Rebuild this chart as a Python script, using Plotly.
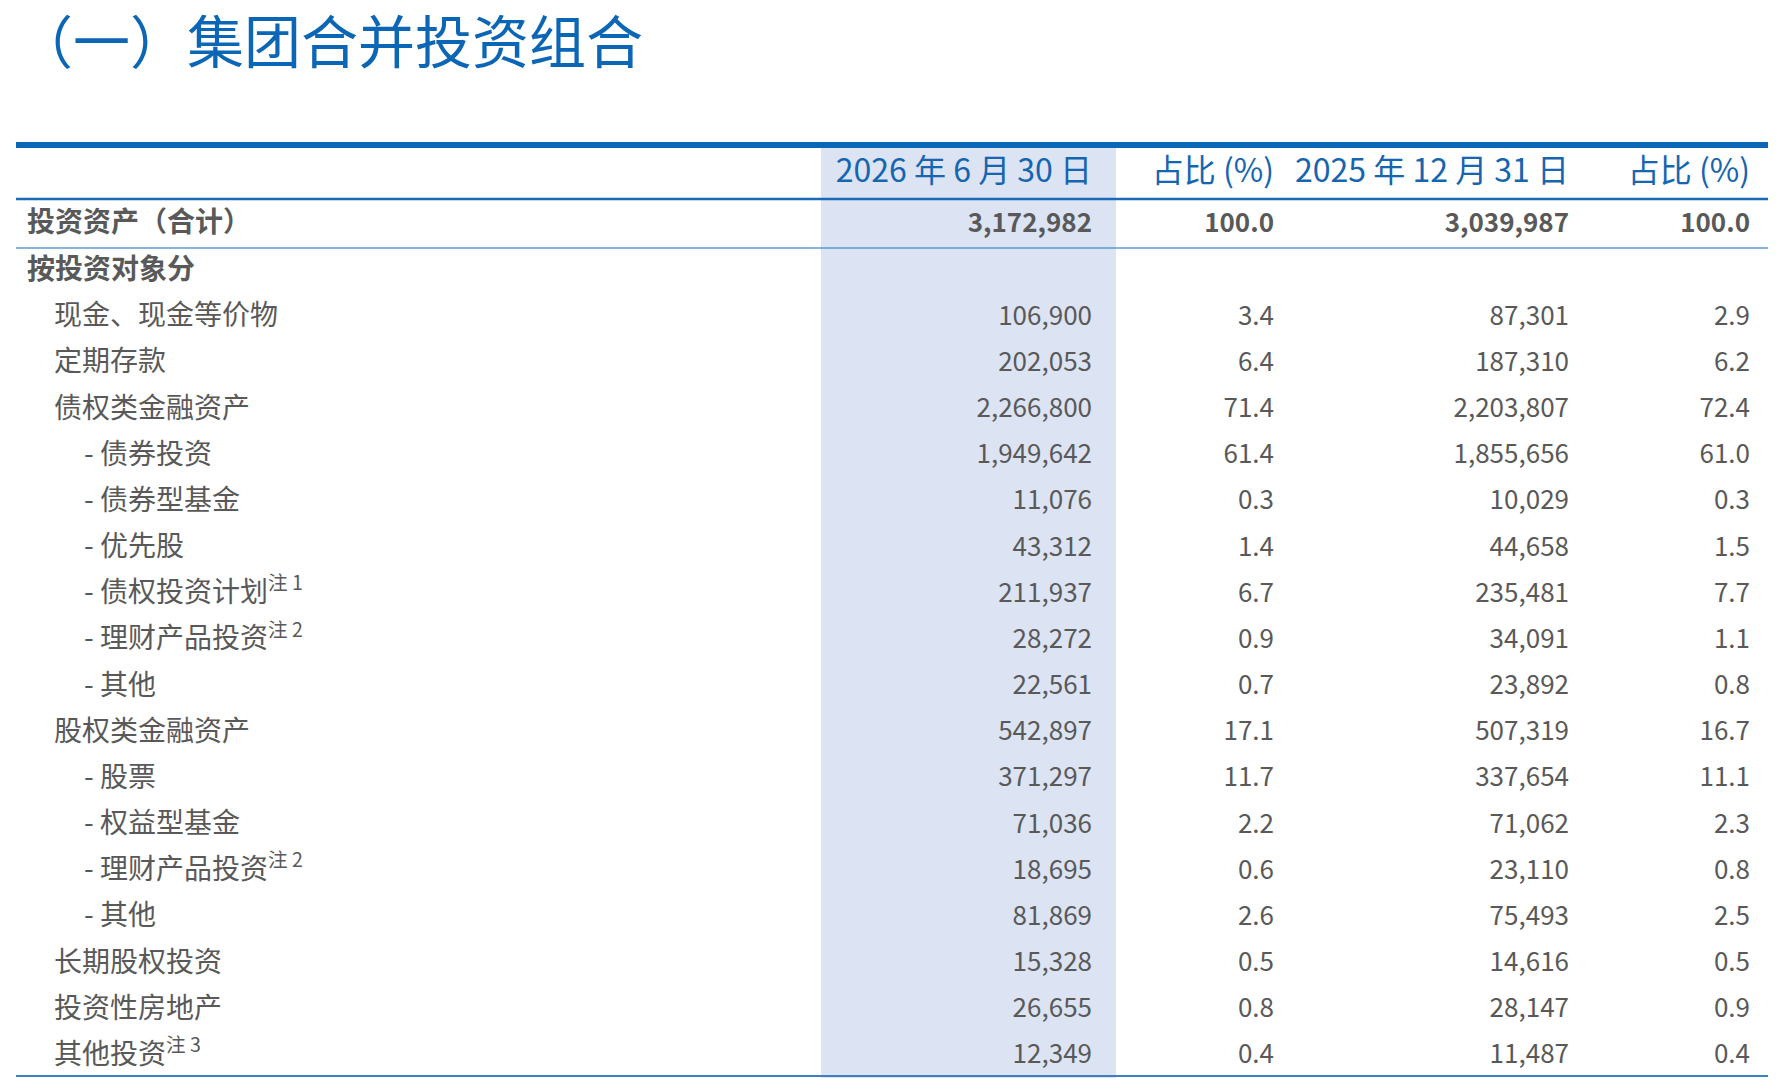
import plotly.graph_objects as go

title = "（一）集团合并投资组合"
unit = "单位：人民币百万元"
headers = ["2026 年 6 月 30 日", "占比 (%)", "2025 年 12 月 31 日", "占比 (%)"]

total_label = "投资资产（合计）"
total_vals = ["3,172,982", "100.0", "3,039,987", "100.0"]

labels = ["按投资对象分", "现金、现金等价物", "定期存款", "债权类金融资产", "- 债券投资", "- 债券型基金",
          "- 优先股", "- 债权投资计划<sup>注 1</sup>", "- 理财产品投资<sup>注 2</sup>", "- 其他",
          "股权类金融资产", "- 股票", "- 权益型基金", "- 理财产品投资<sup>注 2</sup>", "- 其他",
          "长期股权投资", "投资性房地产", "其他投资<sup>注 3</sup>"]
levels = [0, 1, 1, 1, 2, 2, 2, 2, 2, 2, 1, 2, 2, 2, 2, 1, 1, 1]
amt_2026 = ["", "106,900", "202,053", "2,266,800", "1,949,642", "11,076", "43,312", "211,937", "28,272",
            "22,561", "542,897", "371,297", "71,036", "18,695", "81,869", "15,328", "26,655", "12,349"]
pct_2026 = ["", "3.4", "6.4", "71.4", "61.4", "0.3", "1.4", "6.7", "0.9", "0.7", "17.1", "11.7", "2.2",
            "0.6", "2.6", "0.5", "0.8", "0.4"]
amt_2025 = ["", "87,301", "187,310", "2,203,807", "1,855,656", "10,029", "44,658", "235,481", "34,091",
            "23,892", "507,319", "337,654", "71,062", "23,110", "75,493", "14,616", "28,147", "11,487"]
pct_2025 = ["", "2.9", "6.2", "72.4", "61.0", "0.3", "1.5", "7.7", "1.1", "0.8", "16.7", "11.1", "2.3",
            "0.8", "2.5", "0.5", "0.9", "0.4"]

FONT = "Noto Sans CJK SC"
GREY = "#595959"
BLUE = "#0b66b5"
W, H = 1776, 1086
PAD = 8  # page body margin

# layout positions (screen pixels)
col_right = [1092, 1274, 1569, 1750]
label_x = [27, 54, 84]
header_y, total_y, row0_y, row_step = 174, 225, 272, 46.17

fig = go.Figure()

row_y = [row0_y + i * row_step for i in range(len(labels))]
label_text = ["<b>%s</b>" % t if lv == 0 else t for t, lv in zip(labels, levels)]
fig.add_trace(go.Scatter(
    x=[label_x[lv] for lv in levels], y=row_y, text=label_text, mode="text",
    textposition="middle right", textfont=dict(family=FONT, size=28, color=GREY), hoverinfo="skip"))
fig.add_trace(go.Scatter(
    x=[label_x[0]], y=[total_y], text=["<b>%s</b>" % total_label], mode="text",
    textposition="middle right", textfont=dict(family=FONT, size=28, color=GREY), hoverinfo="skip"))

for cx, col, tv, hd in zip(col_right, [amt_2026, pct_2026, amt_2025, pct_2025], total_vals, headers):
    fig.add_trace(go.Scatter(
        x=[cx] * len(col), y=row_y, text=col, mode="text", textposition="middle left",
        textfont=dict(family=FONT, size=26, color=GREY), hoverinfo="skip"))
    fig.add_trace(go.Scatter(
        x=[cx], y=[total_y], text=["<b>%s</b>" % tv], mode="text", textposition="middle left",
        textfont=dict(family=FONT, size=26, color=GREY), hoverinfo="skip"))
    fig.add_trace(go.Scatter(
        x=[cx], y=[header_y], text=[hd], mode="text", textposition="middle left",
        textfont=dict(family=FONT, size=32, color="#1565b0"), hoverinfo="skip"))

shapes = [
    dict(type="rect", x0=821, x1=1116, y0=148, y1=H - PAD, fillcolor="#dce3f2", line_width=0, layer="below"),
    dict(type="line", x0=16, x1=1773, y0=145, y1=145, line=dict(color=BLUE, width=6)),
    dict(type="line", x0=16, x1=1773, y0=199, y1=199, line=dict(color="#1a6ab8", width=2.5)),
    dict(type="line", x0=16, x1=1773, y0=248, y1=248, line=dict(color="#5b9bd0", width=1.5)),
    dict(type="line", x0=16, x1=1773, y0=1076, y1=1076, line=dict(color="#3f7fc0", width=2)),
]

fig.update_layout(
    width=W - 2 * PAD, height=H - 2 * PAD, margin=dict(l=0, r=0, t=0, b=0),
    paper_bgcolor="white", plot_bgcolor="white", showlegend=False,
    xaxis=dict(range=[PAD, W - PAD], visible=False, fixedrange=True),
    yaxis=dict(range=[H - PAD, PAD], visible=False, fixedrange=True),
    shapes=shapes,
    annotations=[
        dict(text=title, x=14, y=38, xref="x", yref="y", xanchor="left", yanchor="middle",
             showarrow=False, font=dict(family=FONT, size=57, color=BLUE)),
        dict(text=unit, x=1771, y=113, xref="x", yref="y", xanchor="right", yanchor="middle",
             showarrow=False, font=dict(family=FONT, size=22, color="#777777")),
    ],
)

fig.write_html("out.html")
